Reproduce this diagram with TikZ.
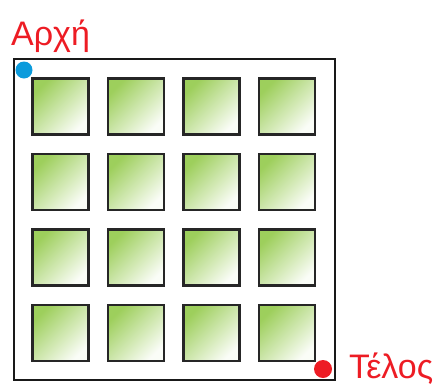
\documentclass[tikz,border=0pt]{standalone}
\usepackage{fontspec}
\setmainfont{Liberation Sans}
\definecolor{grn}{HTML}{8CC63F}
\definecolor{startblue}{HTML}{0B9BDC}
\definecolor{endred}{HTML}{ED1C24}
\begin{document}
\begin{tikzpicture}[x=1pt,y=-1pt,
  cell/.style={draw=black!85,line width=2.6pt,minimum size=56pt,inner sep=0pt,
    shading=axis,top color=grn!85!white,middle color=grn!38!white,bottom color=grn!4!white,shading angle=45},
  lbl/.style={text=endred,font=\fontsize{34}{40}\selectfont,inner sep=0pt}]
\useasboundingbox (0,0) rectangle (439,386);
\node[draw=black!90,line width=2pt,minimum width=321pt,minimum height=321pt,inner sep=0pt] (frame) at (174,219.5) {};
\foreach \i in {0,...,3}{
  \foreach \j in {0,...,3}{
    \node[cell] (c\i\j) at ({60.5+75.5*\i},{106.5+75.5*\j}) {};
  }
}
\node[circle,fill=startblue,minimum size=17pt,inner sep=0pt] (start) at (24,70) {};
\node[circle,fill=endred,minimum size=18pt,inner sep=0pt] (end) at (323,369) {};
\node[lbl,anchor=base west] (startlbl) at (11,45) {Αρχή};
\node[lbl,anchor=base west] (endlbl) at (349,378) {Τέλος};
\end{tikzpicture}
\end{document}
